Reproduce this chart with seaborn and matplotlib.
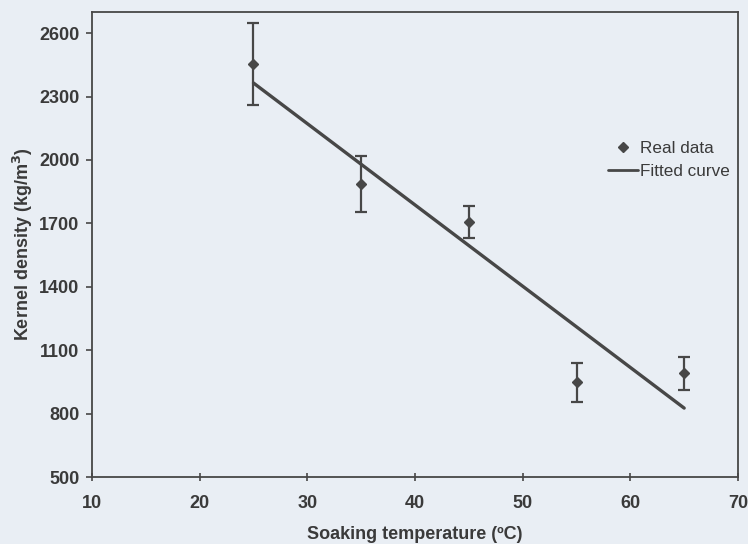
import matplotlib
matplotlib.use("Agg")
import matplotlib.pyplot as plt
import seaborn as sns
import pandas as pd
from matplotlib.lines import Line2D

# Data
temperature = [25, 35, 45, 55, 65]
density = [2455, 1885, 1705, 948, 990]
density_err = [195, 133, 75, 92, 78]

fit_temperature = [25, 65]
fit_density = [2364, 826]

x_ticks = [10, 20, 30, 40, 50, 60, 70]
y_ticks = [500, 800, 1100, 1400, 1700, 2000, 2300, 2600]

sns.set_theme(style="white")
plt.rcParams['font.family'] = ['Liberation Sans', 'DejaVu Sans']

bg = "#e9eef4"
ink = "#474747"
txt = "#3a3a3a"

fig = plt.figure(figsize=(7.48, 5.44), dpi=100, facecolor=bg)
ax = fig.add_axes([92 / 748, 1 - 477 / 544, 646 / 748, 465 / 544])
ax.set_facecolor(bg)

fit_df = pd.DataFrame({"T": fit_temperature, "D": fit_density})
sns.lineplot(data=fit_df, x="T", y="D", ax=ax, color=ink, linewidth=2.4)

ax.errorbar(temperature, density, yerr=density_err, fmt="D", color=ink,
            markersize=5.5, elinewidth=1.6, capsize=4, capthick=1.6, zorder=3)

ax.set_xlim(10, 70)
ax.set_ylim(500, 2700)
ax.set_xticks(x_ticks)
ax.set_yticks(y_ticks)

for s in ax.spines.values():
    s.set_color(ink)
    s.set_linewidth(1.3)

ax.tick_params(axis="y", direction="out", length=4, width=1.2, color=ink,
               labelsize=13, labelcolor=txt, pad=5)
ax.tick_params(axis="x", direction="inout", length=6, width=1.2, color=ink,
               labelsize=13, labelcolor=txt, pad=10)
ax.tick_params(left=True, bottom=True)
for lab in ax.get_xticklabels() + ax.get_yticklabels():
    lab.set_fontweight("bold")

ax.set_xlabel("Soaking temperature (ºC)", fontsize=13, fontweight="bold",
              color=txt, labelpad=10)
ax.set_ylabel("Kernel density (kg/m$^{\\mathbf{3}}$)", fontsize=13, fontweight="bold",
              color=txt, labelpad=3)

handles = [
    Line2D([], [], marker="D", linestyle="none", color=ink, markersize=5.5),
    Line2D([], [], color=ink, linewidth=2),
]
leg = ax.legend(handles, ["Real data", "Fitted curve"], loc="upper right",
                bbox_to_anchor=(0.988, 0.723), frameon=False, fontsize=12.3,
                handlelength=1.75, handletextpad=0.15, labelspacing=0.5,
                borderpad=0, borderaxespad=0)
for t in leg.get_texts():
    t.set_color(txt)

fig.savefig("out.png", dpi=100, facecolor=bg)
